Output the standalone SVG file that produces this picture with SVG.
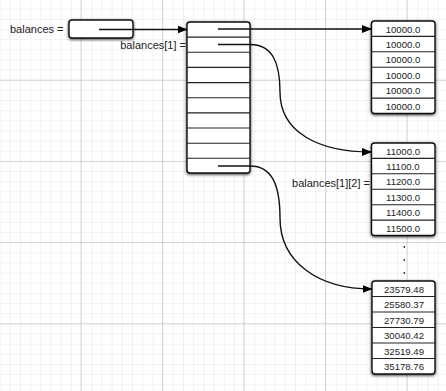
<svg xmlns="http://www.w3.org/2000/svg" width="446" height="391" viewBox="0 0 446 391">
<defs>
<pattern id="minor" width="10.19" height="10.15" patternUnits="userSpaceOnUse" x="0.5" y="-0.5">
<path d="M10.19,0 V10.15 M0,10.15 H10.19" fill="none" stroke="#e6e6e6" stroke-width="1"/>
</pattern>
<pattern id="major" width="81.5" height="81.2" patternUnits="userSpaceOnUse" x="0" y="-0.5">
<path d="M81.5,0 V81.2 M0,81.2 H81.5" fill="none" stroke="#b4b4b4" stroke-width="1"/>
</pattern>
<filter id="sh" x="-20%" y="-20%" width="140%" height="140%">
<feDropShadow dx="0" dy="1" stdDeviation="1.6" flood-color="#000" flood-opacity="0.75"/>
</filter>
<marker id="arr" markerWidth="10" markerHeight="8" refX="9.5" refY="4" orient="auto" markerUnits="userSpaceOnUse">
<path d="M0,0 L10,4 L0,8 Z" fill="#000"/>
</marker>
<style>
.box{fill:#fff;stroke:#111;stroke-width:1.4;filter:url(#sh)}
.row{stroke:#222;stroke-width:1.1}
.lbl{font-family:"Liberation Sans",Arial,sans-serif;font-size:11px;fill:#222}
.val{font-family:"Liberation Sans",Arial,sans-serif;font-size:9.6px;fill:#222;text-anchor:middle}
.con{fill:none;stroke:#111;stroke-width:1.4}
</style>
</defs>
<rect width="446" height="391" fill="#fff"/>
<rect width="446" height="391" fill="url(#minor)"/>
<rect width="446" height="391" fill="url(#major)"/>

<g id="balances-label"><text class="lbl" x="10" y="33">balances =</text></g>
<g id="balances-box"><rect class="box" x="69" y="20" width="64" height="18" rx="3"/></g>

<g id="outer-array">
<rect class="box" x="187" y="22" width="63" height="151" rx="3"/>
<path class="row" d="M187,37.1 H250 M187,52.3 H250 M187,67.4 H250 M187,82.6 H250 M187,97.7 H250 M187,112.9 H250 M187,128 H250 M187,143.2 H250 M187,158.3 H250"/>
</g>
<g id="label-b1"><text class="lbl" x="186" y="49" text-anchor="end">balances[1] =</text></g>

<g id="array-0">
<rect class="box" x="371.5" y="21" width="63.5" height="92.5" rx="3"/>
<path class="row" d="M371.5,36.4 H435 M371.5,51.8 H435 M371.5,67.2 H435 M371.5,82.7 H435 M371.5,98.1 H435"/>
<text class="val" x="403" y="32.5">10000.0</text>
<text class="val" x="403" y="47.9">10000.0</text>
<text class="val" x="403" y="63.3">10000.0</text>
<text class="val" x="403" y="78.7">10000.0</text>
<text class="val" x="403" y="94.1">10000.0</text>
<text class="val" x="403" y="109.5">10000.0</text>
</g>

<g id="array-1">
<rect class="box" x="371.5" y="143" width="63.5" height="92.5" rx="3"/>
<path class="row" d="M371.5,158.4 H435 M371.5,173.8 H435 M371.5,189.2 H435 M371.5,204.7 H435 M371.5,220.1 H435"/>
<text class="val" x="403" y="154.5">11000.0</text>
<text class="val" x="403" y="169.9">11100.0</text>
<text class="val" x="403" y="185.3">11200.0</text>
<text class="val" x="403" y="200.7">11300.0</text>
<text class="val" x="403" y="216.1">11400.0</text>
<text class="val" x="403" y="231.5">11500.0</text>
</g>
<g id="label-b12"><text class="lbl" x="370" y="186.5" text-anchor="end">balances[1][2] =</text></g>

<g id="ellipsis" fill="#333">
<circle cx="404.3" cy="247" r="0.9"/>
<circle cx="404.3" cy="260" r="0.9"/>
<circle cx="404.3" cy="273" r="0.9"/>
</g>

<g id="array-9">
<rect class="box" x="372" y="281" width="63" height="93" rx="3"/>
<path class="row" d="M372,296.5 H435 M372,312 H435 M372,327.5 H435 M372,343 H435 M372,358.5 H435"/>
<text class="val" x="404" y="292.6">23579.48</text>
<text class="val" x="404" y="308.1">25580.37</text>
<text class="val" x="404" y="323.6">27730.79</text>
<text class="val" x="404" y="339.1">30040.42</text>
<text class="val" x="404" y="354.6">32519.49</text>
<text class="val" x="404" y="370.1">35178.76</text>
</g>

<g id="connectors">
<path class="con" d="M99,29.5 H187" marker-end="url(#arr)"/>
<path class="con" d="M218,29 H371.5" marker-end="url(#arr)"/>
<path class="con" d="M218,44.5 H250 C272,44.5 280,62 280,92 C280,132 318,152 371.5,152" marker-end="url(#arr)"/>
<path class="con" d="M218,166 H250 C272,166 280,185 280,218 C280,262 318,289 372,289" marker-end="url(#arr)"/>
</g>
</svg>
